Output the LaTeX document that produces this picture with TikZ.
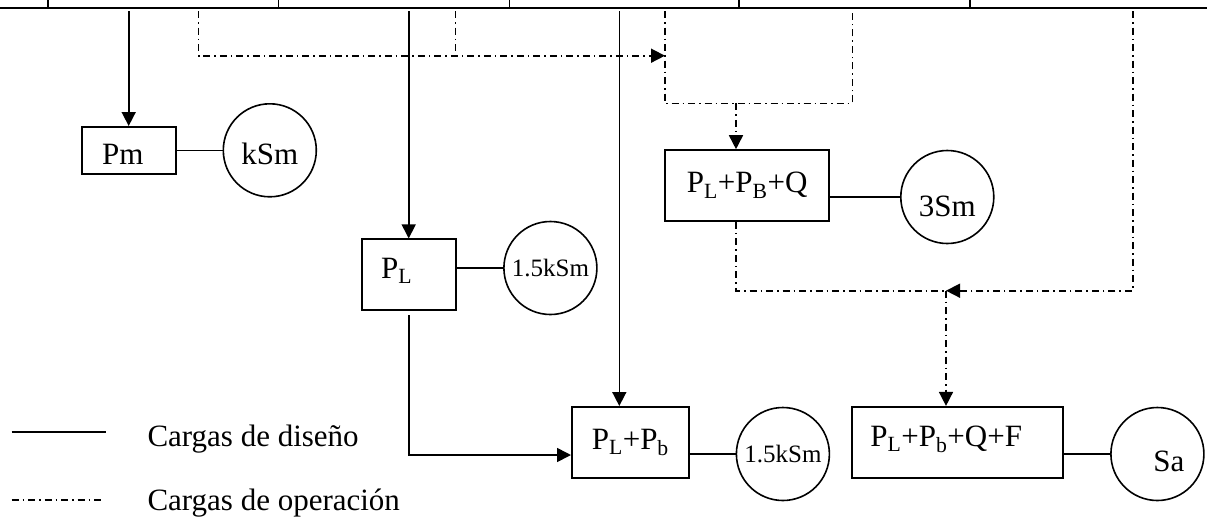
\documentclass[tikz,border=0pt]{standalone}
\usepackage{fontspec}
\setmainfont{Liberation Serif}
\usetikzlibrary{arrows.meta,positioning}

\begin{document}
\begin{tikzpicture}[x=1pt,y=-1pt,font=\fontsize{31}{37}\selectfont,line width=1.6pt,
  box/.style={draw,minimum height=71pt,inner sep=0pt},
  circ/.style={draw,circle,minimum size=93pt,inner sep=0pt},
  small/.style={font=\fontsize{25}{30}\selectfont},
  arr/.style={-{Triangle[length=14pt,width=14pt]}},
  op/.style={dash pattern=on 7pt off 4pt on 1.5pt off 4pt}]
  \useasboundingbox (0,0) rectangle (1207,523);
  % linea superior
  \draw (0,8) -- (1207,8);
  \foreach \x in {48,278.5,509.5,739,970} \draw (\x,0) -- (\x,8);
  % cargas de diseno
  \node[box,minimum width=94pt,minimum height=47pt,label={[xshift=-6pt,yshift=-4pt]center:Pm}](pm) at (128.7,150.3){};
  \node[circ,right=46pt of pm,label={[yshift=-3.5pt]center:kSm}](ksm){};
  \node[box,minimum width=94pt,label={[xshift=-12pt,yshift=4pt]center:P\textsubscript{L}}](pl) at (408.7,274.7){};
  \node[circ,small,right=46.6pt of pl,yshift=6.7pt](kpl){1.5kSm};
  \node[box,minimum width=117pt](plpb) at (630.3,442.3){P\textsubscript{L}+P\textsubscript{b}};
  \node[circ,small,right=46pt of plpb,yshift=-11.7pt](kplpb){1.5kSm};
  % cargas de operacion
  \node[box,minimum width=164pt](plpbq) at (747.2,185.5){P\textsubscript{L}+P\textsubscript{B}+Q};
  \node[circ,right=70pt of plpbq,yshift=-11.5pt,label={[yshift=-9.5pt]center:3Sm}](s3){};
  \node[box,minimum width=211pt,label={[xshift=-11pt,yshift=3pt]center:P\textsubscript{L}+P\textsubscript{b}+Q+F}](plpbqf) at (957.2,442.2){};
  \node[circ,right=46.6pt of plpbqf,yshift=-11.8pt,label={[xshift=11.5pt,yshift=-7.5pt]center:Sa}](sa){};
  \draw (pm) -- (ksm);
  \draw (kpl.west -| pl.east) -- (kpl.west);
  \draw (kplpb.west -| plpb.east) -- (kplpb.west);
  \draw (s3.west -| plpbq.east) -- (s3.west);
  \draw (sa.west -| plpbqf.east) -- (sa.west);
  % flechas desde arriba
  \coordinate (t1) at (128.7,11);
  \coordinate (t2) at (408.7,11);
  \coordinate (t3) at (619.3,11);
  \coordinate (c1) at (0,455);
  \draw[arr] (t1) -- (pm);
  \draw[arr] (t2) -- (pl);
  \draw[arr] (t3) -- (t3 |- plpb.north);
  \draw[arr] ([yshift=-4pt]pl.south) |- (plpb.west |- c1);
  \coordinate (d1) at (198.5,11);
  \coordinate (d2) at (455.5,11);
  \coordinate (d3) at (665,11);
  \coordinate (d4) at (852.3,11);
  \coordinate (d5) at (1132.7,11);
  \coordinate (j1) at (665,55.7);
  \coordinate (j2) at (736,103.3);
  \coordinate (j3) at (946,290.7);
  \draw[op,arr] (d1) |- (j1);
  \draw[op] (d2) -- (d2 |- j1);
  \draw[op] (d3) -- (d3 |- j2) -- (d4 |- j2) -- (d4);
  \draw[op,arr] (j2) -- (j2 |- plpbq.north);
  \draw[op] (j2 |- plpbq.south) -- (j2 |- j3) -- (j3);
  \draw[op,arr] (d5) |- (j3);
  \draw[op,arr] (j3) -- (j3 |- plpbqf.north);
  % leyenda
  \coordinate (l1) at (11.7,431.7);
  \coordinate (l2) at (106,431.7);
  \coordinate (l3) at (11.7,500);
  \coordinate (l4) at (104,500);
  \draw (l1) -- (l2);
  \draw[op] (l3) -- (l4);
  \node[anchor=base west,inner sep=0pt](leg1) at (146.7,446.7){Cargas de diseño};
  \node[anchor=base west,inner sep=0pt](leg2) at (146.7,510){Cargas de operación};
\end{tikzpicture}
\end{document}
